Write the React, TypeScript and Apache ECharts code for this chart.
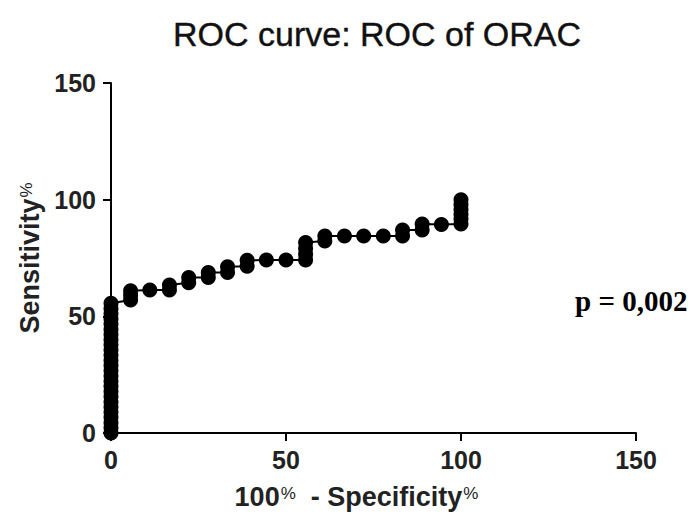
import React, { useEffect, useRef } from "react";
import * as echarts from "echarts";

const titleText = "ROC curve: ROC of ORAC";
const pValueText = "p = 0,002";
const xTicks = [0, 50, 100, 150];
const yTicks = [0, 50, 100, 150];

// 100% - Specificity%
const fpr = [
  0, 0, 0, 0, 0, 0, 0, 0, 0, 0, 0, 0, 0, 0, 0, 0, 0, 0, 0, 0, 0, 0, 0, 0, 0, 0,
  5.6, 5.6, 5.6, 11.1, 16.7, 16.7, 22.2, 22.2, 27.8, 27.8, 33.3, 33.3, 38.9, 38.9,
  44.4, 50, 55.6, 55.6, 55.6, 55.6, 61.1, 61.1, 66.7, 72.2, 77.8, 83.3, 83.3,
  88.9, 88.9, 94.4, 100, 100, 100, 100, 100, 100,
];
// Sensitivity%
const sens = [
  0, 2.2, 4.4, 6.7, 8.9, 11.1, 13.3, 15.6, 17.8, 20, 22.2, 24.4, 26.7, 28.9, 31.1,
  33.3, 35.6, 37.8, 40, 42.2, 44.4, 46.7, 48.9, 51.1, 53.3, 55.6,
  57, 59, 61, 61.3, 61.3, 63.4, 64.4, 66.6, 66.6, 68.8, 68.8, 71.3, 71.5, 74,
  74.1, 74.1, 74.1, 76.6, 79.1, 81.6, 82.3, 84.4, 84.4, 84.4, 84.4, 84.4, 87,
  87, 89.6, 89.4, 89.6, 91.7, 93.8, 95.8, 97.9, 100,
];

export default function App() {
  const ref = useRef<HTMLDivElement>(null);
  useEffect(() => {
    document.body.style.margin = "0";
    const chart = echarts.init(ref.current!, null, { renderer: "svg" });
    const data = fpr.map((x, i) => [x, sens[i]]);
    const tickFont = {
      fontFamily: "'Liberation Sans', Arial, sans-serif",
      fontWeight: "bold" as const,
      fontSize: 25,
      color: "#222",
    };
    const nameRich = {
      a: { fontFamily: "'Liberation Sans', Arial, sans-serif", fontWeight: "bold", fontSize: 27, color: "#222" },
      p: {
        fontFamily: "'Liberation Sans', Arial, sans-serif",
        fontWeight: "normal",
        fontSize: 17,
        color: "#222",
        padding: [0, 0, 7, 1],
      },
    };
    chart.setOption({
      animation: false,
      backgroundColor: "#fff",
      title: {
        text: titleText,
        left: 168,
        top: 12,
        textStyle: {
          fontFamily: "'Liberation Sans', Arial, sans-serif",
          fontWeight: "normal",
          fontSize: 34,
          color: "#111",
          textBorderColor: "#111",
          textBorderWidth: 0.4,
        },
      },
      grid: { left: 111, right: 56, top: 83, bottom: 84 },
      xAxis: {
        type: "value",
        min: 0,
        max: 150,
        interval: 50,
        name: "{a|100}{p|%}{a|  - Specificity}{p|%}",
        nameLocation: "middle",
        nameGap: 50,
        nameTextStyle: { rich: nameRich, padding: [0, 34, 0, 0] },
        axisLine: { show: true, onZero: false, lineStyle: { color: "#000", width: 2 } },
        axisTick: { show: true, length: 8, lineStyle: { color: "#000", width: 2 } },
        axisLabel: { ...tickFont, margin: 14 },
        splitLine: { show: false },
      },
      yAxis: {
        type: "value",
        min: 0,
        max: 150,
        interval: 50,
        name: "{a|Sensitivity}{p|%}",
        nameLocation: "middle",
        nameGap: 68,
        nameTextStyle: { rich: nameRich },
        axisLine: { show: true, onZero: false, lineStyle: { color: "#000", width: 2 } },
        axisTick: { show: true, length: 8, lineStyle: { color: "#000", width: 2 } },
        axisLabel: { ...tickFont, margin: 15 },
        splitLine: { show: false },
      },
      graphic: [
        {
          type: "text",
          left: 575,
          top: 286,
          style: {
            text: pValueText,
            font: "bold 29px 'Liberation Serif', 'Times New Roman', serif",
            fill: "#000",
          },
        },
      ],
      series: [
        {
          type: "line",
          data,
          symbol: "circle",
          symbolSize: 15,
          showAllSymbol: true,
          lineStyle: { color: "#000", width: 2 },
          itemStyle: { color: "#000" },
          z: 3,
        },
      ],
    });
    return () => chart.dispose();
  }, []);
  return (
    <div
      ref={ref}
      style={{ position: "absolute", left: 0, top: 0, width: 692, height: 517 }}
    />
  );
}
